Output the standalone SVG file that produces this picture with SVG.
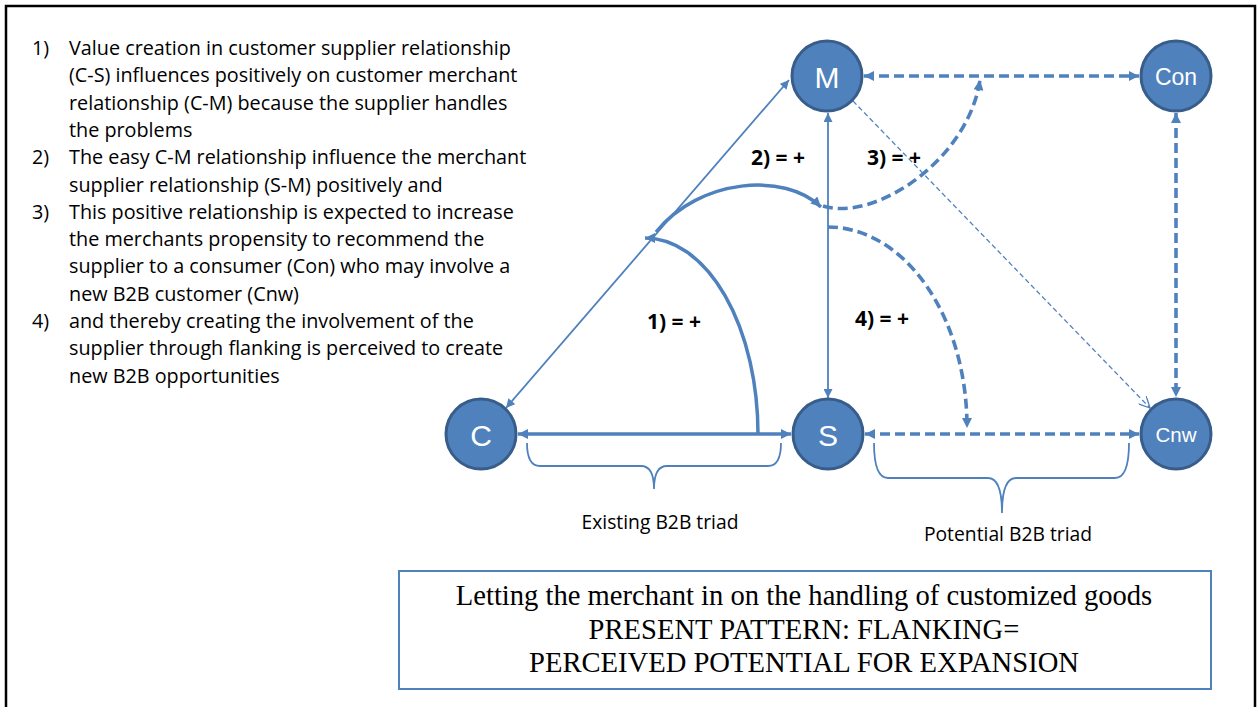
<svg xmlns="http://www.w3.org/2000/svg" width="1258" height="707" viewBox="0 0 1258 707">
  <style>
    .frame { fill: #ffffff; stroke: #000000; stroke-width: 2.5; }
    .node circle { fill: #4F81BD; stroke: #385D8A; stroke-width: 3; }
    .node text { fill: #ffffff; font-family: "Liberation Sans", Arial, sans-serif; text-anchor: middle; }
    .thick { fill: none; stroke: #4F81BD; stroke-width: 3.5; }
    .thin { fill: none; stroke: #4F81BD; stroke-width: 1.8; }
    .dash { fill: none; stroke: #4F81BD; stroke-width: 3.6; stroke-dasharray: 10 5; }
    .dash-thin { fill: none; stroke: #4F81BD; stroke-width: 1.3; stroke-dasharray: 5 3; }
    .brace { fill: none; stroke: #4F81BD; stroke-width: 1.8; }
    .notes { font-family: "Open Sans", "Liberation Sans", sans-serif; font-size: 19.8px; fill: #000000; }
    .lbl { font-family: "Open Sans", "Liberation Sans", sans-serif; font-size: 21px; font-weight: bold; fill: #000000; }
    .caption { font-family: "Open Sans", "Liberation Sans", sans-serif; font-size: 19.3px; fill: #000000; text-anchor: middle; }
    .box { fill: #ffffff; stroke: #4F81BD; stroke-width: 2; }
    .boxtext { font-family: "Liberation Serif", "Times New Roman", serif; font-size: 28.6px; fill: #000000; text-anchor: middle; }
  </style>
  <defs>
    <marker id="arrow" viewBox="0 0 10 10" refX="10" refY="5" markerUnits="userSpaceOnUse" markerWidth="11" markerHeight="10" orient="auto-start-reverse">
      <path d="M0,0 L10,5 L0,10 z" fill="#4F81BD"/>
    </marker>
    <marker id="arrow-sm" viewBox="0 0 10 10" refX="10" refY="5" markerUnits="userSpaceOnUse" markerWidth="10" markerHeight="9" orient="auto-start-reverse">
      <path d="M0,0 L10,5 L0,10 z" fill="#4F81BD"/>
    </marker>
    <marker id="arrow-open" viewBox="0 0 10 10" refX="10" refY="5" markerUnits="userSpaceOnUse" markerWidth="12" markerHeight="11" orient="auto">
      <path d="M0,0 L10,5 L0,10" fill="none" stroke="#4F81BD" stroke-width="1.2"/>
    </marker>
  </defs>

  <!-- page frame -->
  <rect class="frame" x="6" y="6" width="1249" height="730"/>

  <!-- numbered explanation -->
  <g id="notes" class="notes">
    <text x="32" y="55">1)</text>
    <text x="69" y="55">Value creation in customer supplier relationship</text>
    <text x="69" y="82.3">(C-S) influences positively on customer merchant</text>
    <text x="69" y="109.6">relationship (C-M) because the supplier handles</text>
    <text x="69" y="136.9">the problems</text>
    <text x="32" y="164.2">2)</text>
    <text x="69" y="164.2">The easy C-M relationship influence the merchant</text>
    <text x="69" y="191.5">supplier relationship (S-M) positively and</text>
    <text x="32" y="218.8">3)</text>
    <text x="69" y="218.8">This positive relationship is expected to increase</text>
    <text x="69" y="246.1">the merchants propensity to recommend the</text>
    <text x="69" y="273.4">supplier to a consumer  (Con) who may involve a</text>
    <text x="69" y="300.7">new B2B customer (Cnw)</text>
    <text x="32" y="328">4)</text>
    <text x="69" y="328">and thereby creating the involvement of the</text>
    <text x="69" y="355.3">supplier through flanking is perceived to create</text>
    <text x="69" y="382.6">new B2B opportunities</text>
  </g>

  <!-- connectors -->
  <g id="connectors">
    <!-- C - S existing relationship -->
    <line class="thick" x1="518" y1="434" x2="791" y2="434" marker-start="url(#arrow)" marker-end="url(#arrow)"/>
    <!-- C - M -->
    <line class="thin" x1="506" y1="408" x2="789" y2="80" marker-start="url(#arrow-sm)" marker-end="url(#arrow-sm)"/>
    <!-- M - S -->
    <line class="thin" x1="828" y1="113" x2="828" y2="398" marker-start="url(#arrow-sm)" marker-end="url(#arrow-sm)"/>
    <!-- effect 1 -->
    <path class="thick" d="M 758 434 A 113 196 0 0 0 645 238" marker-end="url(#arrow)"/>
    <!-- effect 2 -->
    <path class="thick" d="M 656 232 C 700 178, 785 172, 821 207" marker-end="url(#arrow)"/>
    <!-- effect 3 -->
    <path class="dash" d="M 823 206 C 875 222, 968 160, 980 80" marker-end="url(#arrow)"/>
    <!-- effect 4 -->
    <path class="dash" d="M 828 227 A 139 200 0 0 1 967 428" marker-end="url(#arrow)"/>
    <!-- M - Con -->
    <line class="dash" x1="864" y1="76" x2="1139" y2="76" marker-start="url(#arrow)" marker-end="url(#arrow)"/>
    <!-- Con - Cnw -->
    <line class="dash" x1="1176" y1="113" x2="1176" y2="397" marker-start="url(#arrow)" marker-end="url(#arrow)"/>
    <!-- S - Cnw -->
    <line class="dash" x1="865" y1="434" x2="1139" y2="434" marker-start="url(#arrow)" marker-end="url(#arrow)"/>
    <!-- M - Cnw -->
    <line class="dash-thin" x1="853" y1="101" x2="1150" y2="408" marker-end="url(#arrow-open)"/>
  </g>

  <!-- effect labels -->
  <g id="effect-labels" class="lbl">
    <text x="647" y="329">1) = +</text>
    <text x="751" y="165">2) = +</text>
    <text x="867" y="165">3) = +</text>
    <text x="855" y="326">4) = +</text>
  </g>

  <!-- nodes -->
  <g id="node-M" class="node">
    <circle cx="827" cy="76" r="35"/>
    <text x="827" y="87.5" font-size="30">M</text>
  </g>
  <g id="node-Con" class="node">
    <circle cx="1176" cy="76" r="35"/>
    <text x="1176" y="84.5" font-size="23">Con</text>
  </g>
  <g id="node-C" class="node">
    <circle cx="481" cy="434" r="35"/>
    <text x="481" y="445.5" font-size="30">C</text>
  </g>
  <g id="node-S" class="node">
    <circle cx="828" cy="434" r="35"/>
    <text x="828" y="445.5" font-size="30">S</text>
  </g>
  <g id="node-Cnw" class="node">
    <circle cx="1176" cy="434" r="35"/>
    <text x="1176" y="441.5" font-size="20.5">Cnw</text>
  </g>

  <!-- triad braces -->
  <g id="brace-existing">
    <path class="brace" d="M 527 443 Q 527 466 540 466 L 641 466 Q 654 466 654 489 Q 654 466 667 466 L 768 466 Q 781 466 781 443"/>
    <text class="caption" x="660" y="529">Existing B2B triad</text>
  </g>
  <g id="brace-potential">
    <path class="brace" d="M 874 443 Q 874 478 888 478 L 988 478 Q 1002 478 1002 513 Q 1002 478 1016 478 L 1115 478 Q 1129 478 1129 443"/>
    <text class="caption" x="1008" y="541">Potential B2B triad</text>
  </g>

  <!-- summary box -->
  <g id="summary">
    <rect class="box" x="399" y="571" width="812" height="118"/>
    <text class="boxtext" x="804" y="605">Letting the merchant in on the handling of customized goods</text>
    <text class="boxtext" x="804" y="639">PRESENT PATTERN: FLANKING=</text>
    <text class="boxtext" x="804" y="672">PERCEIVED POTENTIAL FOR EXPANSION</text>
  </g>
</svg>
